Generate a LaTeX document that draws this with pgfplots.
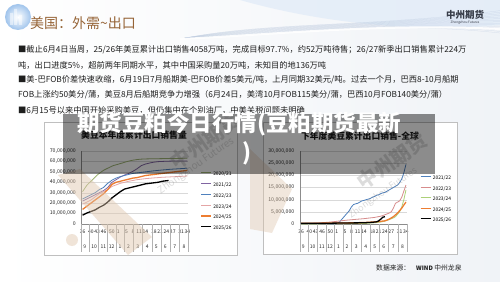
\documentclass[border=0pt]{standalone}
\usepackage{fontspec}
\setmainfont{Noto Sans CJK SC}
\usepackage{pgfplots}
\pgfplotsset{compat=1.18}
\newcommand{\fs}[1]{\fontsize{#1}{#1}\selectfont}
\definecolor{cOlive}{RGB}{160,182,118}
\definecolor{cPurple}{RGB}{128,100,162}
\definecolor{cBlue}{RGB}{79,129,189}
\definecolor{cPink}{RGB}{228,165,165}
\definecolor{cPinkR}{RGB}{215,140,140}
\definecolor{cOrange}{RGB}{237,125,49}
\definecolor{cGreen}{RGB}{172,208,120}
\definecolor{cTitle}{RGB}{150,100,55}
\definecolor{cBeige}{RGB}{222,196,170}
\definecolor{cText}{RGB}{30,30,30}
\definecolor{cBg}{RGB}{240,243,247}
\definecolor{cSky}{RGB}{226,236,248}
\definecolor{cWave}{RGB}{185,200,222}
\definecolor{cLogo}{RGB}{160,196,236}
\definecolor{cLogoTxt}{RGB}{55,60,72}
\pgfplotsset{
  slide/.style={
    scale only axis, anchor=south west, width=107pt, height=73pt,
    xmin=-0.5, xmax=50.5, ymin=0,
    axis lines*=left, axis line style={black!45, line width=0.3pt},
    scaled y ticks=false,
    ymajorgrids, grid style={black!15, line width=0.3pt},
    major tick length=0pt,
    tick label style={text=black!85},
    xtick={0,4,7,10,14,17,21,24,27,30,34,37,40,43,47,50},
    xticklabels={36,40,43,46,50,1,5,8,11,14,18,21,24,27,31,34},
    xticklabel style={font=\fs{5}, yshift=-5.3pt, inner sep=0.3pt},
    yticklabel style={font=\fs{5.2}, xshift=-5pt, inner sep=0.5pt},
    clip=false,
    legend cell align=left,
    legend image code/.code={\draw[##1] (0pt,1.6pt) -- (10pt,1.6pt);},
    /pgf/number format/assume math mode=true,
    every axis plot/.append style={line join=round},
  },
}
\newcommand{\mlab}[2]{\node[font=\fs{5}, text=black!85, yshift=-22.5pt] at (axis cs:#1,0) {#2};}
\newcommand{\msep}[1]{\draw[black!30, line width=0.3pt] (axis cs:#1,0) -- ++(0pt,-28pt);}
\newcommand{\months}{%
  \msep{-0.5}\msep{3.35}\msep{7.65}\msep{11.9}\msep{15.9}\msep{19.9}\msep{24.1}\msep{28.55}\msep{32.95}\msep{37.25}\msep{41.65}\msep{46.15}\msep{50.5}%
  \mlab{1.1}{9}\mlab{5.5}{10}\mlab{9.9}{11}\mlab{13.9}{12}\mlab{17.9}{1}\mlab{21.9}{2}\mlab{26.3}{3}\mlab{30.8}{4}\mlab{35.1}{5}\mlab{39.4}{6}\mlab{43.9}{7}\mlab{48.4}{8}%
}
\begin{document}
\begin{tikzpicture}[x=1pt,y=1pt]
\useasboundingbox (0,0) rectangle (500,281);
\begin{scope}
\clip (0,0) rectangle (500,281);
\fill[white] (0,0) rectangle (500,281);
\shade[left color=white, right color=cBg] (0,0) rectangle (500,281);
\fill[cSky, opacity=0.8] (240,281) .. controls (320,258) and (420,248) .. (500,256) -- (500,281) -- cycle;
\foreach \i in {0,...,14} {
  \draw[cWave, line width=0.25pt, opacity=0.55] (185,243) .. controls (270,244+\i*1.1) and (370,262-\i*0.6) .. (500,248+\i*1.6);
}
\draw[white, line width=2pt, opacity=0.9] (180,242) .. controls (270,246) and (380,258) .. (500,252);
\shade[inner color=white, outer color=cLogo] (18,264) circle (13);
\fill[white, opacity=0.5] (10,256) rectangle (13,268) (14,256) rectangle (17,272) (19,256) rectangle (22,266);
\end{scope}
% title and logo
\node[anchor=west, text=cTitle, font=\fs{14}, inner sep=0pt] at (30,258) {美国：外需\textasciitilde 出口};
\node[text=cLogoTxt, font=\fs{9.5}\bfseries, inner sep=0pt] at (465,266) {中州期货};
\node[text=cLogoTxt, font=\fs{3.2}, inner sep=0pt] at (465,258.5) {Zhongzhou Futures};
% body text
\begin{scope}[every node/.style={anchor=west, inner sep=0pt, text=cText, font=\fs{8.27}}]
\node at (18,231) {■截止6月4日当周，25/26年美豆累计出口销售4058万吨，完成目标97.7\%，约52万吨待售；26/27新季出口销售累计224万};
\node at (18,216) {吨，出口进度5\%，超前两年同期水平，其中中国采购量20万吨，未知目的地136万吨};
\node at (18,201) {■美-巴FOB价差快速收缩，6月19日7月船期美-巴FOB价差5美元/吨，上月同期32美元/吨。过去一个月，巴西8-10月船期};
\node at (18,186) {FOB上涨约50美分/蒲，美豆8月后船期竞争力增强（6月24日，美湾10月FOB115美分/蒲，巴西10月FOB140美分/蒲）};
\node at (18,170.5) {■6月15号以来中国开始采购美豆，但仍集中在个别油厂，中美关税问题未明确};
\end{scope}
% chart frames
\draw[black!25, fill=white, line width=0.4pt] (44,159) rectangle (237,26);
\draw[black!25, fill=white, line width=0.4pt] (263,159) rectangle (457,27);
\node[font=\fs{8.8}\bfseries, text=black!90] at (134,146) {美豆本年度累计出口销售量};
\node[font=\fs{8.8}\bfseries, text=black!90] at (360,145) {下年度美豆累计出口销售-全球};
% left chart
\begin{axis}[slide, at={(81.5pt,57pt)}, ymax=70,
  ytick={0,10,20,30,40,50,60,70},
  yticklabels={0,{10,000,000},{20,000,000},{30,000,000},{40,000,000},{50,000,000},{60,000,000},{70,000,000}},
  legend style={at={(1.11,0.715)}, anchor=north west, draw=none, fill=none, inner sep=0pt, font=\fs{4.9}, row sep=6.2pt, column sep=1.5pt, nodes={inner sep=0pt, text height=3.6pt, text depth=1pt}},
]
\addplot[cOlive, line width=0.8pt] coordinates {(0,31)(1,34)(2,37)(3,39)(4,41)(5,43)(6,45)(7,47)(8,48.5)(9,50)(10,51.5)(11,52.5)(12,53.5)(13,54.5)(14,55.5)(15,56.2)(16,56.8)(17,57.3)(18,58)(19,58.5)(20,59.2)(21,59.8)(22,60.3)(23,60.8)(24,61.2)(25,61.5)(26,61.8)(27,62)(28,62.2)(30,62.4)(32,62.5)(35,62.6)(40,62.8)(45,62.9)(50,63)};
\addlegendentry{2020/21}
\addplot[cPurple, line width=0.8pt] coordinates {(0,22)(2,24)(4,26)(6,28)(8,30)(10,32)(12,35)(14,40)(16,42.5)(18,45)(20,47)(22,48.5)(24,50.5)(26,53)(28,56)(30,57.5)(32,58.5)(34,59.3)(36,59.8)(38,60)(40,60.2)(44,60.4)(50,60.5)};
\addlegendentry{2021/22}
\addplot[cBlue, line width=0.8pt] coordinates {(0,24)(2,26)(4,28)(6,30)(8,33)(10,35)(12,39)(14,42)(16,44)(18,45.5)(20,46.5)(22,47.5)(24,48.5)(26,49)(28,49.5)(30,50)(34,51)(38,51.8)(42,52.5)(46,53)(50,53.5)};
\addlegendentry{2022/23}
\addplot[cPink, line width=0.8pt] coordinates {(0,19)(2,21)(4,23)(6,26)(8,29)(10,31)(12,33)(14,36)(16,37.5)(18,39)(20,40)(22,41)(26,42.5)(30,43.5)(34,44.2)(38,44.8)(42,45.2)(46,45.6)(50,46)};
\addlegendentry{2023/24}
\addplot[cOrange, line width=1.3pt] coordinates {(0,14)(2,17)(4,20)(6,23)(8,26)(10,29)(12,33)(14,38)(16,40)(18,41)(20,42)(22,43)(24,44)(26,44.5)(28,45.5)(30,46.5)(34,47.5)(38,48.5)(42,49.5)(46,50.5)(50,51.3)};
\addlegendentry{2024/25}
\addplot[black, line width=1.3pt] coordinates {(0,8.5)(2,10.5)(4,12)(6,13.5)(8,16)(10,18)(12,21)(14,25)(16,28)(18,31)(20,33.5)(22,34.5)(24,35.5)(26,36.5)(28,37.5)(30,38.5)(32,39)(34,39.5)(36,40)(38,41)(41,41.7)};
\addlegendentry{2025/26}
\months
\end{axis}
% right chart
\begin{axis}[slide, at={(300pt,57pt)}, ymax=30,
  ytick={0,5,10,15,20,25,30},
  yticklabels={0,{5,000,000},{10,000,000},{15,000,000},{20,000,000},{25,000,000},{30,000,000}},
  legend style={at={(1.12,0.66)}, anchor=north west, draw=none, fill=none, inner sep=0pt, font=\fs{4.9}, row sep=5.9pt, column sep=1.5pt, nodes={inner sep=0pt, text height=3.6pt, text depth=1pt}},
]
\addplot[cBlue, line width=0.8pt] coordinates {(14,0)(17,0.1)(18,0.5)(19,1.5)(20,2.5)(21,3.5)(22,4.5)(23,5.5)(24,7)(25,8)(26,8.3)(27,8.5)(28,9)(29,9.5)(30,9.7)(31,10)(32,10.2)(33,10.5)(34,11)(35,11.3)(36,11.8)(37,12)(38,12.5)(39,12.8)(40,13)(41,13.5)(42,14)(43,14.5)(44,15)(45,15.5)(46,16)(47,17)(48,18.5)(49,21)(50,24.5)};
\addlegendentry{2021/22}
\addplot[cPinkR, line width=0.8pt] coordinates {(0,0.2)(8,0.4)(14,0.8)(18,1.2)(22,1.6)(26,1.9)(30,2.2)(35,2.7)(38,3.2)(40,3.8)(42,4.5)(43,5)(44,6.5)(45,8.5)(46,9)(47,9.5)(48,11)(49,13.5)(50,16)};
\addlegendentry{2022/23}
\addplot[cGreen, line width=0.8pt] coordinates {(0,0)(30,0.2)(35,0.5)(38,0.8)(40,1.2)(42,1.8)(44,2.5)(45,3)(46,4)(47,5)(48,7)(49,10)(50,14)};
\addlegendentry{2023/24}
\addplot[cOrange, line width=1.3pt] coordinates {(0,0.3)(20,0.4)(30,0.6)(34,0.8)(37,1)(40,1.3)(42,2)(44,3)(46,4.5)(48,6.5)(49,7.8)(50,9)};
\addlegendentry{2024/25}
\addplot[black, line width=1.3pt] coordinates {(0,0.3)(10,0.3)(20,0.4)(30,0.5)(34,0.7)(36,0.9)(37,1.3)(38,2)(39,2.8)(40,3)};
\addlegendentry{2025/26}
\months
\end{axis}
% watermarks
\fill[cBeige, opacity=0.45] (58,106) -- (80,112) -- (152,44) -- (128,26) -- cycle;
\fill[cBeige, opacity=0.45] (72,41) circle (6);
\fill[cBeige, opacity=0.4] (250,132) -- (292,92) -- (272,48) -- (250,52) -- cycle;
\node[rotate=35, text=black!45, opacity=0.3, font=\fs{20}\bfseries] at (205,140) {中州期货};
\node[rotate=35, text=black!45, opacity=0.3, font=\fs{10}] at (196,115) {Zhongzhou Futures};
\node[rotate=35, text=black!45, opacity=0.3, font=\fs{20}\bfseries] at (392,120) {中州期货};
\node[rotate=35, text=black!45, opacity=0.3, font=\fs{9}] at (383,88) {Zhongzhou Futures};
% overlay
\fill[black, opacity=0.45] (63,167) rectangle (435,107);
\node[text=white, font=\fs{22.5}\bfseries, inner sep=0pt] at (239,157) {期货豆粕今日行情(豆粕期货最新};
\node[text=white, font=\fs{22.5}\bfseries, inner sep=0pt] at (246.5,128) {)};
% source
\node[anchor=west, inner sep=0pt, font=\fs{6.8}, text=cText] at (376,13) {数据来源：\hspace{6pt}{\fs{6}\bfseries WIND} 中州龙泉};
\end{tikzpicture}
\end{document}
